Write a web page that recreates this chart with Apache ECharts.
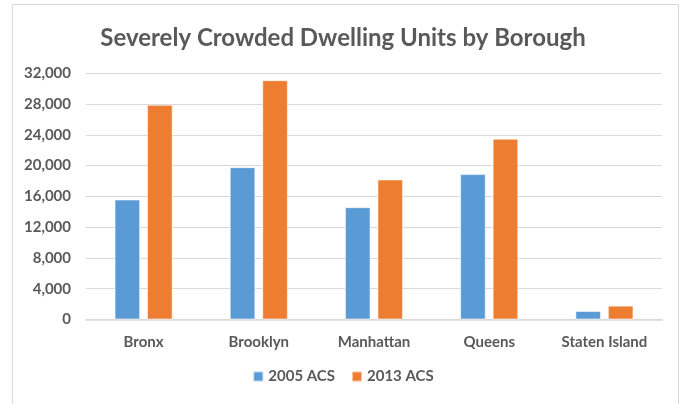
<!DOCTYPE html>
<html>
<head>
<meta charset="utf-8">
<title>Severely Crowded Dwelling Units by Borough</title>
<script src="https://cdn.jsdelivr.net/npm/echarts@6/dist/echarts.min.js"></script>
<style>
  html, body { margin: 0; padding: 0; background: #ffffff; }
  #chart { width: 686px; height: 404px; }
</style>
</head>
<body>
<div id="chart"></div>
<script>
// Boroughs and severely crowded dwelling unit counts per survey year
const boroughs = ['Bronx', 'Brooklyn', 'Manhattan', 'Queens', 'Staten Island'];
const acs2005 = [15600, 19800, 14600, 18900, 1100];
const acs2013 = [27900, 31100, 18200, 23500, 1800];
const seriesNames = ['2005 ACS', '2013 ACS'];

const FONT = 'Lato';
const TEXT = '#595959';
const GRID_LINE = '#D9D9D9';

const chart = echarts.init(document.getElementById('chart'), null, { renderer: 'canvas' });

const fmt = v => v.toLocaleString('en-US');

chart.setOption({
  animation: false,
  backgroundColor: '#ffffff',
  textStyle: { fontFamily: FONT },
  graphic: [{
    type: 'rect',
    shape: { x: 12.5, y: 4.5, width: 666, height: 410 },
    style: { fill: 'none', stroke: GRID_LINE, lineWidth: 1 },
    silent: true,
    z: -10
  }],
  title: {
    text: 'Severely Crowded Dwelling Units by Borough',
    left: 'center',
    top: 21,
    textStyle: { fontFamily: FONT, fontSize: 24, fontWeight: 'bold', color: TEXT }
  },
  legend: {
    data: seriesNames,
    bottom: 15,
    left: 'center',
    itemWidth: 10,
    itemHeight: 10,
    itemGap: 16,
    icon: 'rect',
    textStyle: { fontFamily: FONT, fontSize: 15, fontWeight: 'bold', color: TEXT }
  },
  grid: { left: 86, right: 24, top: 73.3, bottom: 84.5, containLabel: false },
  xAxis: {
    type: 'category',
    data: boroughs,
    axisLine: { lineStyle: { color: GRID_LINE, width: 1.5 } },
    axisTick: { show: false },
    axisLabel: { margin: 15, fontFamily: FONT, fontSize: 15, fontWeight: 'bold', color: TEXT }
  },
  yAxis: {
    type: 'value',
    min: 0,
    max: 32000,
    interval: 4000,
    axisLine: { show: false },
    axisTick: { show: false },
    splitLine: { lineStyle: { color: GRID_LINE, width: 1 } },
    axisLabel: { margin: 15, formatter: fmt, fontFamily: FONT, fontSize: 15, fontWeight: 'bold', color: TEXT }
  },
  series: [
    {
      name: seriesNames[0],
      type: 'bar',
      data: acs2005,
      barWidth: 25.6,
      barGap: '27%',
      itemStyle: { color: '#5B9BD5', borderColor: 'rgba(255,255,255,0.55)', borderWidth: 1 }
    },
    {
      name: seriesNames[1],
      type: 'bar',
      data: acs2013,
      barWidth: 25.6,
      barGap: '27%',
      itemStyle: { color: '#ED7D31', borderColor: 'rgba(255,255,255,0.55)', borderWidth: 1 }
    }
  ]
});
</script>
</body>
</html>
